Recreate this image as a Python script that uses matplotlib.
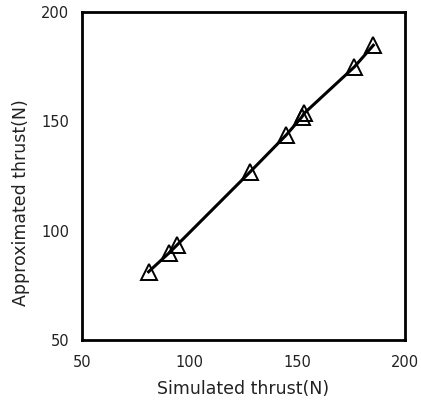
import matplotlib
matplotlib.use("Agg")
import matplotlib.pyplot as plt

simulated = [80.9, 90.2, 94.1, 128.1, 144.8, 152.1, 153.1, 176.5, 185.3]
approximated = [81.2, 89.6, 93.4, 126.9, 143.7, 152.0, 153.6, 174.9, 184.8]
xticks = [50, 100, 150, 200]
yticks = [50, 100, 150, 200]

plt.rcParams['font.family'] = ['DejaVu Sans']

fig = plt.figure(figsize=(4.21, 4.08), dpi=100)
ax = fig.add_axes([82/421, 1-340/408, (405-82)/421, (340-12)/408])
ax.plot(simulated, approximated, color='black', lw=2.2,
        marker='^', markersize=11, markerfacecolor='none',
        markeredgecolor='black', markeredgewidth=1.4)
ax.set_xlim(50, 200)
ax.set_ylim(50, 200)
ax.set_xticks(xticks)
ax.set_yticks(yticks)
ax.tick_params(length=0, labelsize=10.5, colors='#222222')
ax.tick_params(axis='x', pad=11)
ax.tick_params(axis='y', pad=9)
for s in ax.spines.values():
    s.set_linewidth(2)
ax.set_xlabel('Simulated thrust(N)', fontsize=12.5, labelpad=7, color='#222222')
ax.set_ylabel('Approximated thrust(N)', fontsize=12.5, color='#222222',
              va='center', ha='center')
ax.yaxis.set_label_coords(-0.19, 0.42)
fig.savefig('out.png', dpi=100)
